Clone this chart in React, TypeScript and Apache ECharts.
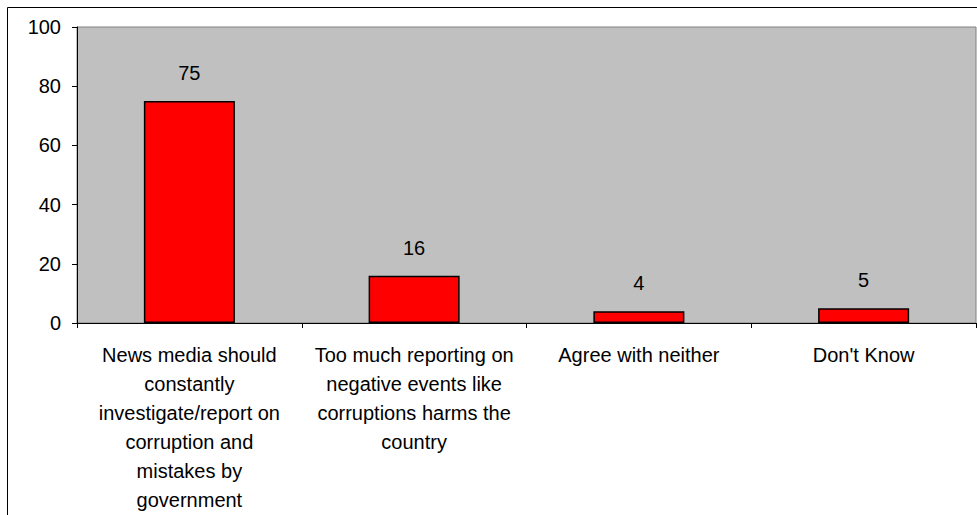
import React, { useEffect, useRef } from "react";
import * as echarts from "echarts";

const categories: string[] = [
  "News media should\nconstantly\ninvestigate/report on\ncorruption and\nmistakes by\ngovernment",
  "Too much reporting on\nnegative events like\ncorruptions harms the\ncountry",
  "Agree with neither",
  "Don't Know",
];
const values: number[] = [75, 16, 4, 5];
const yMin = 0;
const yMax = 100;
const yStep = 20;

const FONT = "'Liberation Sans', Arial, Helvetica, sans-serif";

export default function App() {
  const ref = useRef<HTMLDivElement>(null);

  useEffect(() => {
    if (!ref.current) return;
    const chart = echarts.init(ref.current, undefined, { renderer: "svg" });
    chart.setOption({
      animation: false,
      backgroundColor: "#ffffff",
      textStyle: { fontFamily: FONT },
      graphic: [
        {
          type: "rect",
          shape: { x: 7.5, y: 7.5, width: 1000, height: 600 },
          style: { fill: "none", stroke: "#000", lineWidth: 1 },
          silent: true,
          z: -10,
        },
      ],
      grid: {
        left: 77,
        top: 27,
        right: 1,
        bottom: 192,
        show: true,
        backgroundColor: "#C0C0C0",
        borderColor: "#808080",
        borderWidth: 1,
      },
      xAxis: {
        type: "category",
        data: categories,
        boundaryGap: true,
        axisLine: { show: true, lineStyle: { color: "#000", width: 1 } },
        axisTick: { show: true, length: 5, lineStyle: { color: "#000" } },
        axisLabel: {
          interval: 0,
          color: "#000",
          fontSize: 20,
          fontFamily: FONT,
          lineHeight: 29,
          margin: 17,
          align: "center",
        },
      },
      yAxis: {
        type: "value",
        min: yMin,
        max: yMax,
        interval: yStep,
        axisLine: { show: true, lineStyle: { color: "#000", width: 1 } },
        axisTick: { show: true, length: 5, lineStyle: { color: "#000" } },
        splitLine: { show: false },
        axisLabel: {
          color: "#000",
          fontSize: 20,
          fontFamily: FONT,
          margin: 16,
        },
      },
      series: [
        {
          type: "bar",
          data: values,
          barWidth: "40.5%",
          itemStyle: { color: "#FF0000", borderColor: "#000", borderWidth: 1.5 },
          label: {
            show: true,
            position: "top",
            distance: 18,
            color: "#000",
            fontSize: 20,
            fontFamily: FONT,
          },
        },
      ],
    });
    return () => chart.dispose();
  }, []);

  return (
    <div
      ref={ref}
      style={{ position: "fixed", left: 0, top: 0, width: 977, height: 515 }}
    />
  );
}
